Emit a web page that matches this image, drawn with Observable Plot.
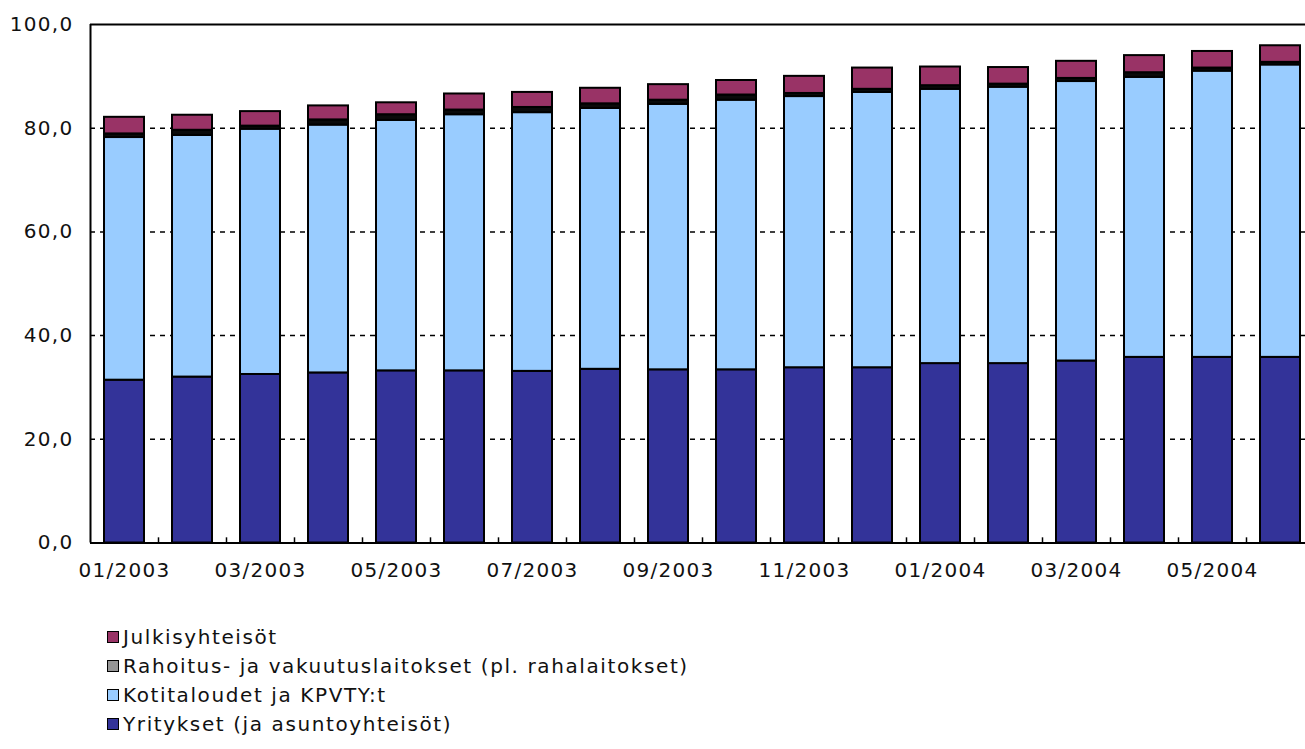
<!DOCTYPE html>
<html><head><meta charset="utf-8">
<script src="https://cdn.jsdelivr.net/npm/d3@7"></script>
<script src="https://cdn.jsdelivr.net/npm/@observablehq/plot@0.6"></script>
<style>
body{margin:0;background:#fff;font-family:"DejaVu Sans",sans-serif;}
#wrap{position:relative;width:1305px;height:749px;overflow:hidden;background:#fff}
#chart{position:absolute;left:0;top:0}
#legend{position:absolute;left:107px;top:622px;}
.item{display:flex;align-items:center;height:29px;font-size:20px;letter-spacing:1.6px;color:#111;white-space:nowrap}
.sw{width:10px;height:10px;border:1px solid #000;margin-right:4px;box-sizing:content-box}
</style></head><body><div id="wrap"><div id="chart"></div><div id="legend"></div></div>
<script>
const months = ["01/2003","02/2003","03/2003","04/2003","05/2003","06/2003","07/2003","08/2003","09/2003","10/2003","11/2003","12/2003","01/2004","02/2004","03/2004","04/2004","05/2004","06/2004"];
const xLabelMonths = ["01/2003","03/2003","05/2003","07/2003","09/2003","11/2003","01/2004","03/2004","05/2004"];
const yTicks = [0, 20, 40, 60, 80, 100];
const yTickLabels = ["0,0", "20,0", "40,0", "60,0", "80,0", "100,0"];
const seriesNames = ["Yritykset (ja asuntoyhteisöt)", "Kotitaloudet ja KPVTY:t", "Rahoitus- ja vakuutuslaitokset (pl. rahalaitokset)", "Julkisyhteisöt"];
const seriesColors = ["#333399", "#99CCFF", "#969696", "#993366"];
const yritykset = [31.4, 32.0, 32.5, 32.8, 33.2, 33.2, 33.1, 33.5, 33.4, 33.4, 33.8, 33.8, 34.6, 34.6, 35.1, 35.8, 35.8, 35.8];
const kotitaloudet = [46.8, 46.6, 47.3, 47.8, 48.3, 49.4, 49.9, 50.3, 51.2, 52.0, 52.3, 53.1, 52.9, 53.3, 53.9, 54.0, 55.2, 56.4];
const rahoitus = [0.7, 1.0, 0.6, 1.0, 1.1, 0.9, 1.0, 0.9, 0.8, 1.0, 0.6, 0.6, 0.7, 0.6, 0.6, 0.9, 0.6, 0.5];
const julkisyhteisot = [3.2, 2.9, 2.8, 2.7, 2.3, 3.1, 2.9, 3.0, 3.0, 2.8, 3.3, 4.1, 3.6, 3.2, 3.3, 3.3, 3.2, 3.2];
const seriesValues = [yritykset, kotitaloudet, rahoitus, julkisyhteisot];

const data = [];
months.forEach((m, i) => {
  seriesValues.forEach((arr, s) => data.push({month: m, series: seriesNames[s], value: arr[i]}));
});

// The thin Rahoitus segment renders as a solid dark band in the reference (borders swallow the fill)
const barFill = d => d.series === seriesNames[2] ? "#0a0a0a" : seriesColors[seriesNames.indexOf(d.series)];

const chart = Plot.plot({
  width: 1305, height: 600,
  marginTop: 24, marginBottom: 57.5, marginLeft: 90, marginRight: -10,
  style: {fontFamily: "DejaVu Sans", fontSize: "20px", letterSpacing: "1.3px", color: "#111", background: "#fff"},
  x: {type: "band", domain: months, range: [90, 1314], paddingInner: 0.41, paddingOuter: 0.205, label: null},
  y: {domain: [0, 100], range: [542.5, 24], label: null},
  marks: [
    Plot.ruleY([20, 40, 60, 80], {stroke: "#000", strokeDasharray: "5,5", strokeWidth: 1.5}),
    Plot.barY(data, Plot.stackY({order: seriesNames}, {x: "month", y: "value", z: "series", fill: barFill, stroke: "#000", strokeWidth: 2})),
    Plot.ruleY([0, 100], {stroke: "#000", strokeWidth: 2}),
    Plot.ruleX([months[0]], {x: d => d, dx: -34, y1: 0, y2: 100, stroke: "#000", strokeWidth: 2}),
    Plot.ruleX(months.slice(1), {x: d => d, dx: -34, y1: 0, y2: 1, stroke: "#000", strokeWidth: 1.5}),
    Plot.axisY({ticks: yTicks, tickFormat: d => yTickLabels[yTicks.indexOf(d)], tickSize: 0, tickPadding: 17, label: null}),
    Plot.axisX({ticks: xLabelMonths, tickSize: 0, tickPadding: 20, label: null})
  ]
});
document.getElementById("chart").appendChild(chart);

const legend = document.getElementById("legend");
[3, 2, 1, 0].forEach(s => {
  const it = document.createElement("div");
  it.className = "item";
  const sw = document.createElement("span");
  sw.className = "sw";
  sw.style.background = seriesColors[s];
  it.appendChild(sw);
  it.appendChild(document.createTextNode(seriesNames[s]));
  legend.appendChild(it);
});
</script>
</body></html>
